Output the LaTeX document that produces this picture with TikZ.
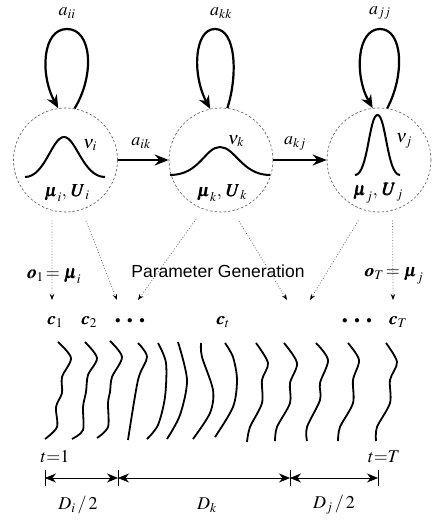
\documentclass[tikz,border=0pt]{standalone}
\usepackage{mathptmx}
\usepackage{bm}
\usepackage{fontspec}
\setmainfont{Liberation Serif}
\newfontfamily\helv{Liberation Sans}
\usetikzlibrary{arrows.meta}
\begin{document}
\begin{tikzpicture}[x=1pt,y=-1pt,
  every node/.style={font=\fontsize{18}{21}\selectfont, inner sep=0pt},
  state/.style={circle, draw=black!65, dashed, dash pattern=on 2.5pt off 2pt, line width=0.6pt, minimum size=104pt},
  loopedge/.style={line width=2.2pt, -{Stealth[length=13pt,width=11pt]}},
  trans/.style={line width=2.2pt, -{Stealth[length=14pt,width=11pt]}},
  gauss/.style={line width=2pt},
  gen/.style={draw=black!60, dotted, line width=0.8pt, -{Stealth[length=6pt,width=4.5pt,black]}},
  wave/.style={line width=1.8pt},
  dim/.style={line width=0.7pt, {Stealth[length=11pt,width=9pt]}-{Stealth[length=11pt,width=9pt]}},
  dotsnode/.style={font=\fontsize{11}{12}\selectfont},
]
\useasboundingbox (0,0) rectangle (433,521);
% states
\node[state] (ci) at (65.5,160) {};
\node[state] (ck) at (221,160) {};
\node[state] (cj) at (379,160) {};
% self loops
\draw[loopedge] (ci.80) .. controls (95,75) and (92,29) .. (67,29) .. controls (42,29) and (40,75) .. (ci.98);
\draw[loopedge] (ck.83) .. controls (238,75) and (236,29) .. (215,29) .. controls (194,29) and (192,75) .. (ck.102);
\draw[loopedge] (cj.81) .. controls (405,75) and (403,29) .. (380,29) .. controls (357,29) and (354,75) .. (cj.97);
\node (aii) at (67,13) {$a_{ii}$};
\node (akk) at (221,13) {$a_{kk}$};
\node (ajj) at (380,13) {$a_{jj}$};
% transitions
\draw[trans] (ci.east) -- (ck.west);
\draw[trans] (ck.east) -- (cj.west);
\node (aik) at (141,143) {$a_{ik}$};
\node (akj) at (295,143) {$a_{kj}$};
% gaussians
\draw[gauss] (25,177) .. controls (45,177) and (52,137) .. (64,137) .. controls (76,137) and (83,177) .. (105,177);
\draw[gauss] (170,175) .. controls (200,175) and (205,147) .. (220,147) .. controls (235,147) and (242,175) .. (270,175);
\draw[gauss] (355,175) .. controls (368,175) and (369,115) .. (377.5,115) .. controls (386,115) and (387,175) .. (400,175);
\node (vi) at (90,145) {$\nu_i$};
\node (vk) at (236,141) {$\nu_k$};
\node (vj) at (404,141) {$\nu_j$};
\node (pi) at (67,193) {$\bm{\mu}_i,\,\bm{U}_i$};
\node (pk) at (222,193) {$\bm{\mu}_k,\,\bm{U}_k$};
\node (pj) at (378,193) {$\bm{\mu}_j,\,\bm{U}_j$};
% generation arrows
\coordinate (t1) at (52,300);
\coordinate (t2) at (117,300);
\coordinate (t3) at (138,300);
\coordinate (t4) at (287,300);
\coordinate (t5) at (310,300);
\coordinate (t6) at (393,300);
\draw[gen, shorten <=10pt] (ci.255) -- (t1);
\draw[gen, shorten <=12pt] (ci.288) -- (t2);
\draw[gen, shorten <=12pt] (ck.250) -- (t3);
\draw[gen, shorten <=12pt] (ck.283) -- (t4);
\draw[gen, shorten <=12pt] (cj.254) -- (t5);
\draw[gen, shorten <=10pt] (cj.285) -- (t6);
\node (o1) at (54,276) {$\bm{o}_1\!=\bm{\mu}_i$};
\node (oT) at (394,276) {$\bm{o}_T\!=\bm{\mu}_j$};
\node (pg) at (218,271) {\helv\fontsize{17.5}{20}\selectfont Parameter Generation};
% frames
\node (c1) at (55,322) {$\bm{c}_1$};
\node (c2) at (89,322) {$\bm{c}_2$};
\node[dotsnode] (d1) at (130,321) {$\bullet\hspace{5pt}\bullet\hspace{5pt}\bullet$};
\node (ct) at (223,322) {$\bm{c}_t$};
\node[dotsnode] (d2) at (357,321) {$\bullet\hspace{5pt}\bullet\hspace{5pt}\bullet$};
\node (cT) at (398,322) {$\bm{c}_T$};
% waves
\draw[wave] plot[smooth] coordinates {(58,342) (71,358) (62,377) (62,393) (56,407) (57,427) (45,439)};
\draw[wave] plot[smooth] coordinates {(85,342) (97,358) (88,375) (86,392) (83,407) (83,430) (72,439)};
\draw[wave] plot[smooth] coordinates {(110,341) (122,357) (112,377) (110,392) (108,403) (108,427) (97,438)};
\draw[wave] plot[smooth] coordinates {(138,343) (147,357) (138,380) (128,440)};
\draw[wave] plot[smooth] coordinates {(158,343) (166,363) (165,397) (158,425) (147,439)};
\draw[wave] plot[smooth] coordinates {(178,342) (187,380) (180,415) (167,439)};
\draw[wave] plot[smooth] coordinates {(201,343) (202,357) (213,390) (210,413) (193,439)};
\draw[wave] plot[smooth] coordinates {(225,343) (233,357) (237,380) (233,407) (215,437)};
\draw[wave] plot[smooth] coordinates {(256,343) (268,363) (262,380) (262,403) (250,427) (247,442)};
\draw[wave] plot[smooth] coordinates {(284,343) (297,363) (290,383) (290,403) (277,427) (275,441)};
\draw[wave] plot[smooth] coordinates {(316,343) (328,360) (320,383) (320,400) (307,427) (307,441)};
\draw[wave] plot[smooth] coordinates {(348,343) (359,360) (353,380) (353,403) (340,427) (338,441)};
\draw[wave] plot[smooth] coordinates {(386,343) (397,362) (390,380) (390,403) (377,427) (376,441)};
\node (t1l) at (55,457) {$t{=}1$};
\node (tTl) at (384,457) {$t{=}T$};
% durations
\coordinate (b0) at (45,478);
\coordinate (b1) at (118,478);
\coordinate (b2) at (290,478);
\coordinate (b3) at (378,478);
\foreach \p in {b0,b1,b2,b3} \draw[line width=0.7pt] ([yshift=-8]\p) -- ([yshift=8]\p);
\draw[dim] (b0) -- (b1);
\draw[dim] (b1) -- (b2);
\draw[dim] (b2) -- (b3);
\node (Di) at (78,505) {$D_i\,/\,2$};
\node (Dk) at (207,505) {$D_k$};
\node (Dj) at (334,505) {$D_j\,/\,2$};
\end{tikzpicture}
\end{document}
